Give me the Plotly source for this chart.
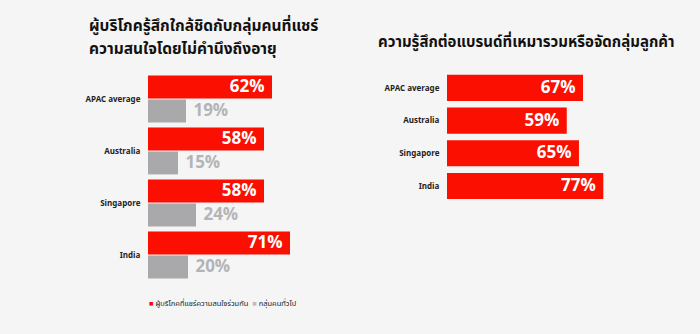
import plotly.graph_objects as go

categories = ["APAC average", "Australia", "Singapore", "India"]
shared_interest = [62, 58, 58, 71]
general_public = [19, 15, 24, 20]
stereotype = [67, 59, 65, 77]

title_left_lines = ["ผู้บริโภครู้สึกใกล้ชิดกับกลุ่มคนที่แชร์", "ความสนใจโดยไม่คำนึงถึงอายุ"]
title_right = "ความรู้สึกต่อแบรนด์ที่เหมารวมหรือจัดกลุ่มลูกค้า"
legend_red = "ผู้บริโภคที่แชร์ความสนใจร่วมกัน"
legend_gray = "กลุ่มคนทั่วไป"

RED = "#fa0f00"
GRAY = "#a9a9ac"
GRAY_TXT = "#b4b4b6"
BG = "#f5f5f5"
FONT = "Noto Sans Thai, Noto Sans, Open Sans, sans-serif"
W, H = 700, 334

def px_x(p):
    return p / W

def px_y(p):
    return 1 - p / H

fig = go.Figure()

fig.add_trace(go.Bar(
    y=categories, x=shared_interest, orientation="h",
    xaxis="x", yaxis="y", marker=dict(color=RED, line=dict(width=0)),
    offset=-0.45, width=0.44,
    text=[f"{v}%\u00a0" for v in shared_interest], textposition="inside",
    insidetextanchor="end", constraintext="none",
    textfont=dict(color="white", size=17, family=FONT, weight="bold"),
    showlegend=False, hoverinfo="skip", cliponaxis=False,
))
fig.add_trace(go.Bar(
    y=categories, x=general_public, orientation="h",
    xaxis="x", yaxis="y", marker=dict(color=GRAY, line=dict(width=0)),
    offset=0.01, width=0.44,
    text=[f"\u00a0{v}%" for v in general_public], textposition="outside",
    constraintext="none",
    textfont=dict(color=GRAY_TXT, size=17, family=FONT, weight="bold"),
    showlegend=False, hoverinfo="skip", cliponaxis=False,
))
fig.add_trace(go.Bar(
    y=categories, x=stereotype, orientation="h",
    xaxis="x2", yaxis="y2", marker=dict(color=RED, line=dict(width=0)),
    offset=-0.4, width=0.8,
    text=[f"{v}%\u00a0" for v in stereotype], textposition="inside",
    insidetextanchor="end", constraintext="none",
    textfont=dict(color="white", size=17, family=FONT, weight="bold"),
    showlegend=False, hoverinfo="skip", cliponaxis=False,
))

axis_common = dict(showgrid=False, zeroline=False, showline=False, fixedrange=True)

title_font = dict(size=15.5, color="#111", family=FONT, weight="bold")

fig.update_layout(
    width=W, height=H,
    margin=dict(l=0, r=0, t=0, b=0),
    paper_bgcolor=BG, plot_bgcolor=BG,
    barmode="overlay",
    font=dict(family=FONT, color="#222"),
    xaxis=dict(domain=[px_x(148), px_x(348)], range=[0, 100], showticklabels=False, anchor="y", **axis_common),
    yaxis=dict(domain=[px_y(281), px_y(73)], autorange="reversed", anchor="x",
               ticks="outside", ticklen=5, tickcolor="rgba(0,0,0,0)",
               tickfont=dict(size=8, color="#222", family=FONT, weight="bold"), **axis_common),
    xaxis2=dict(domain=[px_x(447), px_x(650)], range=[0, 100], showticklabels=False, anchor="y2", **axis_common),
    yaxis2=dict(domain=[px_y(202.3), px_y(71.6)], autorange="reversed", anchor="x2",
                ticks="outside", ticklen=5, tickcolor="rgba(0,0,0,0)",
                tickfont=dict(size=8, color="#222", family=FONT, weight="bold"), **axis_common),
    annotations=[
        dict(text=title_left_lines[0], x=px_x(87), y=px_y(26), xref="paper", yref="paper",
             xanchor="left", yanchor="middle", align="left", showarrow=False, font=title_font),
        dict(text=title_left_lines[1], x=px_x(87), y=px_y(49), xref="paper", yref="paper",
             xanchor="left", yanchor="middle", align="left", showarrow=False, font=title_font),
        dict(text=title_right, x=px_x(376), y=px_y(43), xref="paper", yref="paper",
             xanchor="left", yanchor="middle", align="left", showarrow=False,
             font=dict(size=15, color="#111", family=FONT, weight="bold")),
        dict(text=f'<span style="color:{RED}">■</span> {legend_red}  <span style="color:#bdbdbd">■</span> {legend_gray}',
             x=px_x(147), y=px_y(303), xref="paper", yref="paper",
             xanchor="left", yanchor="middle", align="left", showarrow=False,
             font=dict(size=7.5, color="#222", family=FONT)),
    ],
)

fig.write_html("out.html")
